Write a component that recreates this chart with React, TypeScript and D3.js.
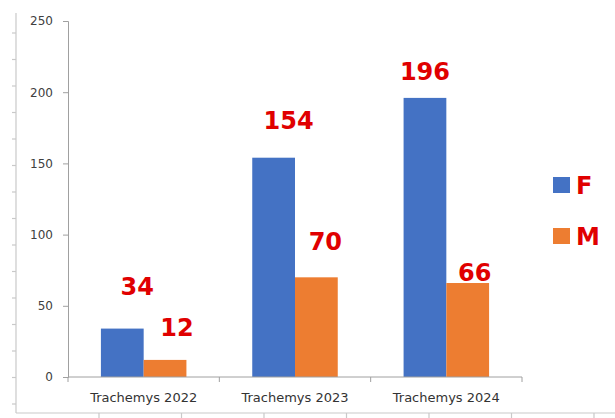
import React, { useEffect, useRef } from "react";
import * as d3 from "d3";

const categories = ["Trachemys 2022", "Trachemys 2023", "Trachemys 2024"];
const seriesNames = ["F", "M"];
const femaleValues = [34, 154, 196];
const maleValues = [12, 70, 66];
const yTicks = [0, 50, 100, 150, 200, 250];

// the data labels were dragged by hand in the source chart: nudge from the bar top
const labelNudgeF = [[15, -42], [15, -37], [0, -27]];
const labelNudgeM = [[12, -33], [9, -36], [7, -11]];

const colors = ["#4472C4", "#ED7D31"];
const red = "#E00000";

const App: React.FC = () => {
    const svgRef = useRef<SVGSVGElement | null>(null);

    useEffect(() => {
        if (!svgRef.current) return;
        const svg = d3.select(svgRef.current);
        svg.selectAll("*").remove();

        const width = 615;
        const height = 418;
        svg.attr("width", width).attr("height", height);

        svg.append("rect").attr("width", width).attr("height", height).attr("fill", "#fff");

        // spreadsheet frame around the chart
        const frame = svg.append("g").attr("stroke", "#c9c9c9").attr("stroke-width", 1.2);
        frame.append("line").attr("x1", 16).attr("x2", 16).attr("y1", 13).attr("y2", 413);
        frame.append("line").attr("x1", 16).attr("x2", width).attr("y1", 413).attr("y2", 413);
        d3.range(33, 405, 26.5).forEach((yy) => {
            frame.append("line").attr("x1", 12).attr("x2", 16).attr("y1", yy).attr("y2", yy);
        });
        d3.range(99, width, 82.5).forEach((xx) => {
            frame.append("line").attr("x1", xx).attr("x2", xx).attr("y1", 413).attr("y2", 418);
        });

        const x0 = d3.scaleBand<string>().domain(categories).range([68, 522]).padding(0);
        const x1 = d3
            .scaleBand<string>()
            .domain(seriesNames)
            .range([0, x0.bandwidth()])
            .paddingInner(0)
            .paddingOuter(0.77);
        const y = d3.scaleLinear().domain([0, 250]).range([377, 21]);

        // y axis
        const yAxis = svg
            .append("g")
            .attr("transform", "translate(68,0)")
            .call(d3.axisLeft(y).tickValues(yTicks).tickSize(5).tickPadding(10));
        yAxis.select(".domain").attr("stroke", "#a0a0a0");
        yAxis.selectAll(".tick line").attr("stroke", "#a0a0a0");
        yAxis
            .selectAll("text")
            .attr("fill", "#404040")
            .attr("font-family", "DejaVu Sans")
            .attr("font-size", 12);

        // bars
        const series = [femaleValues, maleValues];
        series.forEach((vals, si) => {
            svg
                .append("g")
                .selectAll("rect")
                .data(vals)
                .join("rect")
                .attr("x", (_d, i) => (x0(categories[i]) ?? 0) + (x1(seriesNames[si]) ?? 0))
                .attr("y", (d) => y(d))
                .attr("width", x1.bandwidth())
                .attr("height", (d) => y(0) - y(d))
                .attr("fill", colors[si]);
        });

        // x axis
        const xg = svg.append("g").attr("stroke", "#a0a0a0");
        xg.append("line").attr("x1", 68).attr("x2", 522).attr("y1", y(0)).attr("y2", y(0));
        [...categories.map((c) => x0(c) ?? 0), 522].forEach((xx) => {
            xg.append("line").attr("x1", xx).attr("x2", xx).attr("y1", y(0)).attr("y2", y(0) + 5);
        });
        svg
            .append("g")
            .selectAll("text")
            .data(categories)
            .join("text")
            .attr("x", (d) => (x0(d) ?? 0) + x0.bandwidth() / 2)
            .attr("y", 402)
            .attr("text-anchor", "middle")
            .attr("fill", "#333")
            .attr("font-family", "DejaVu Sans")
            .attr("font-size", 13)
            .text((d) => d);

        // value labels
        const nudges = [labelNudgeF, labelNudgeM];
        series.forEach((vals, si) => {
            svg
                .append("g")
                .selectAll("text")
                .data(vals)
                .join("text")
                .attr(
                    "x",
                    (_d, i) =>
                        (x0(categories[i]) ?? 0) +
                        (x1(seriesNames[si]) ?? 0) +
                        x1.bandwidth() / 2 +
                        nudges[si][i][0]
                )
                .attr("y", (d, i) => y(d) + nudges[si][i][1])
                .attr("dy", "0.36em")
                .attr("text-anchor", "middle")
                .attr("fill", red)
                .attr("font-family", "DejaVu Sans")
                .attr("font-weight", "bold")
                .attr("font-size", 24)
                .text((d) => d);
        });

        // legend
        const legend = svg.append("g").attr("transform", "translate(553,185)");
        seriesNames.forEach((name, i) => {
            const g = legend.append("g").attr("transform", `translate(0,${i * 51})`);
            g.append("rect").attr("x", 0).attr("y", -8).attr("width", 17).attr("height", 16).attr("fill", colors[i]);
            g.append("text")
                .attr("x", 23)
                .attr("y", 0)
                .attr("dy", "0.36em")
                .attr("fill", red)
                .attr("font-family", "DejaVu Sans")
                .attr("font-weight", "bold")
                .attr("font-size", 24)
                .text(name);
        });
    }, []);

    return <svg ref={svgRef} style={{ position: "absolute", left: 0, top: 0 }}></svg>;
};

export default App;
